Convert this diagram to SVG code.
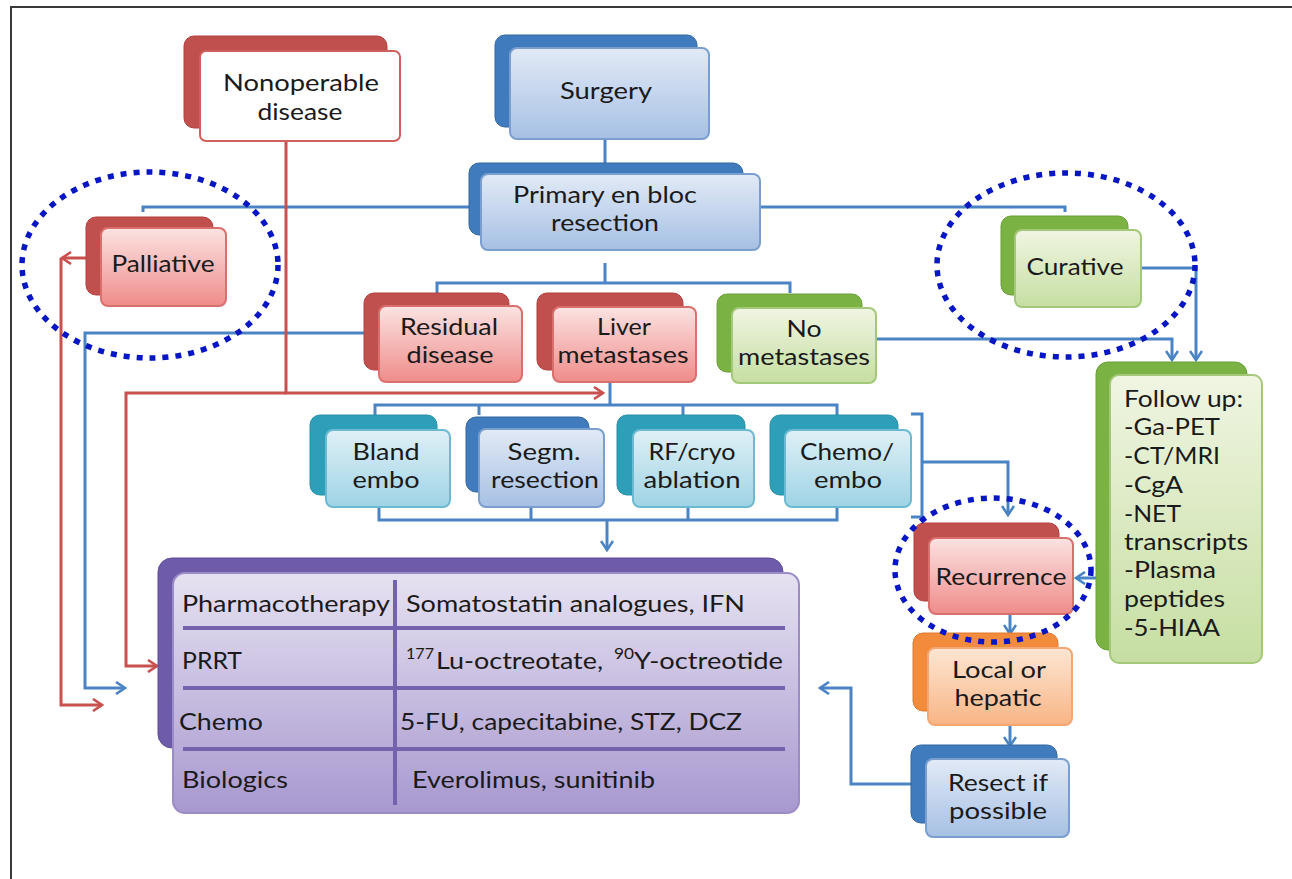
<svg xmlns="http://www.w3.org/2000/svg" width="1292" height="879" viewBox="0 0 1292 879">
<defs>
<linearGradient id="gRed" x1="0" y1="0" x2="0" y2="1"><stop offset="0" stop-color="#fbe3e2"/><stop offset="1" stop-color="#ef8c8a"/></linearGradient>
<linearGradient id="gBlue" x1="0" y1="0" x2="0" y2="1"><stop offset="0" stop-color="#e2eaf6"/><stop offset="1" stop-color="#a6c0e4"/></linearGradient>
<linearGradient id="gGreen" x1="0" y1="0" x2="0" y2="1"><stop offset="0" stop-color="#f0f5e2"/><stop offset="1" stop-color="#c6dea2"/></linearGradient>
<linearGradient id="gTeal" x1="0" y1="0" x2="0" y2="1"><stop offset="0" stop-color="#dff0f6"/><stop offset="1" stop-color="#9fd3e5"/></linearGradient>
<linearGradient id="gOrange" x1="0" y1="0" x2="0" y2="1"><stop offset="0" stop-color="#fde6d3"/><stop offset="1" stop-color="#f8b585"/></linearGradient>
<linearGradient id="gPurple" x1="0" y1="0" x2="0" y2="1"><stop offset="0" stop-color="#e6e2f1"/><stop offset="1" stop-color="#a898cf"/></linearGradient>
<marker id="aB" viewBox="0 0 12 14" refX="10" refY="7" markerWidth="12" markerHeight="14" markerUnits="userSpaceOnUse" orient="auto"><path d="M1,1 L10,7 L1,13" fill="none" stroke="#4a84c4" stroke-width="2.6"/></marker>
<marker id="aR" viewBox="0 0 12 14" refX="10" refY="7" markerWidth="12" markerHeight="14" markerUnits="userSpaceOnUse" orient="auto"><path d="M1,1 L10,7 L1,13" fill="none" stroke="#c8504e" stroke-width="2.6"/></marker>
</defs>
<style>
text{font-family:Lato,"Open Sans","DejaVu Sans",sans-serif;fill:#1a1a1a}
.t{font-size:23px;text-anchor:middle}
.fl{font-size:23px}
.tb{font-size:23px}
.sup{font-size:15px}
.cb{fill:none;stroke:#4a84c4;stroke-width:3}
.cr{fill:none;stroke:#c8504e;stroke-width:3}
.bkR{fill:#c0504d;stroke:#b5403e;stroke-width:1}
.frR{fill:url(#gRed);stroke:#d9706d;stroke-width:2}
.frW{fill:#ffffff;stroke:#d0605d;stroke-width:2}
.bkB{fill:#3f7bbd;stroke:#35679f;stroke-width:1}
.frB{fill:url(#gBlue);stroke:#7a9fcf;stroke-width:2}
.bkG{fill:#7ab344;stroke:#6a9e38;stroke-width:1}
.frG{fill:url(#gGreen);stroke:#a4c879;stroke-width:2}
.bkT{fill:#2d9fb9;stroke:#2790a8;stroke-width:1}
.frT{fill:url(#gTeal);stroke:#6bbad2;stroke-width:2}
.bkO{fill:#f38b3c;stroke:#e07a30;stroke-width:1}
.frO{fill:url(#gOrange);stroke:#f3a874;stroke-width:2}
.bkP{fill:#6e5ba9;stroke:#5e4c98;stroke-width:1}
.frP{fill:url(#gPurple);stroke:#9c8cc6;stroke-width:2}
.ln{stroke:#7462ae;stroke-width:4}
.dot{fill:none;stroke:#0616c4;stroke-width:5.5;stroke-dasharray:6 7}
</style>
<rect x="0" y="0" width="1292" height="879" fill="#ffffff"/>
<path d="M11,879 V7 H1292" fill="none" stroke="#3a3a3a" stroke-width="2"/>

<g id="connectors">
<path class="cb" d="M605,139 V163"/>
<path class="cb" d="M143,212 V207 H1065 V212"/>
<path class="cb" d="M1142,268 H1196 V360" marker-end="url(#aB)"/>
<path class="cb" d="M876,339 H1172 V360" marker-end="url(#aB)"/>
<path class="cb" d="M605,263 V283"/>
<path class="cb" d="M437,293 V283 H790 V293"/>
<path class="cb" d="M364,333 H85 V688 H125" marker-end="url(#aB)"/>
<path class="cb" d="M610,382 V405"/>
<path class="cb" d="M375,415 V405 H837 V415 M479,405 V415 M683,405 V415"/>
<path class="cb" d="M379,508 V520 H837 V508 M531,520 V508 M688,520 V508"/>
<path class="cb" d="M607,520 V550" marker-end="url(#aB)"/>
<path class="cb" d="M911,414 H922 V517 H911"/>
<path class="cb" d="M922,462 H1008 V515" marker-end="url(#aB)"/>
<path class="cb" d="M1096,578 H1076" marker-end="url(#aB)"/>
<path class="cb" d="M1010,615 V634" marker-end="url(#aB)"/>
<path class="cb" d="M1010,725 V746" marker-end="url(#aB)"/>
<path class="cb" d="M911,784 H851 V688 H820" marker-end="url(#aB)"/>
<path class="cr" d="M286,141 V393 H603" marker-end="url(#aR)"/>
<path class="cr" d="M286,393 H126 V666 H157" marker-end="url(#aR)"/>
<path class="cr" d="M86,258 H62" marker-end="url(#aR)"/>
<path class="cr" d="M61,258 V705 H102" marker-end="url(#aR)"/>
</g>

<g id="nonoperable">
<rect class="bkR" x="184" y="36" width="203" height="92" rx="10"/>
<rect class="frW" x="200" y="51" width="200" height="90" rx="6"/>
<text class="t" x="301" y="91" textLength="156" lengthAdjust="spacingAndGlyphs">Nonoperable</text>
<text class="t" x="300" y="120" textLength="85" lengthAdjust="spacingAndGlyphs">disease</text>
</g>

<g id="surgery">
<rect class="bkB" x="495" y="35" width="202" height="92" rx="10"/>
<rect class="frB" x="510" y="48" width="199" height="91" rx="7"/>
<text class="t" x="606" y="99" textLength="92" lengthAdjust="spacingAndGlyphs">Surgery</text>
</g>

<g id="primary">
<rect class="bkB" x="469" y="163" width="274" height="72" rx="10"/>
<rect class="frB" x="481" y="174" width="279" height="76" rx="7"/>
<text class="t" x="605" y="203" textLength="184" lengthAdjust="spacingAndGlyphs">Primary en bloc</text>
<text class="t" x="605" y="231" textLength="108" lengthAdjust="spacingAndGlyphs">resection</text>
</g>

<g id="palliative">
<rect class="bkR" x="86" y="217" width="127" height="78" rx="10"/>
<rect class="frR" x="101" y="228" width="125" height="78" rx="7"/>
<text class="t" x="163" y="272" textLength="103" lengthAdjust="spacingAndGlyphs">Palliative</text>
</g>

<g id="curative">
<rect class="bkG" x="1001" y="216" width="127" height="79" rx="10"/>
<rect class="frG" x="1015" y="230" width="126" height="77" rx="7"/>
<text class="t" x="1075" y="275" textLength="97" lengthAdjust="spacingAndGlyphs">Curative</text>
</g>

<g id="residual">
<rect class="bkR" x="364" y="293" width="145" height="77" rx="10"/>
<rect class="frR" x="379" y="306" width="143" height="76" rx="7"/>
<text class="t" x="449" y="335" textLength="98" lengthAdjust="spacingAndGlyphs">Residual</text>
<text class="t" x="450" y="363" textLength="87" lengthAdjust="spacingAndGlyphs">disease</text>
</g>

<g id="liver">
<rect class="bkR" x="537" y="293" width="146" height="77" rx="10"/>
<rect class="frR" x="553" y="307" width="143" height="75" rx="7"/>
<text class="t" x="624" y="335" textLength="54" lengthAdjust="spacingAndGlyphs">Liver</text>
<text class="t" x="623" y="363" textLength="131" lengthAdjust="spacingAndGlyphs">metastases</text>
</g>

<g id="nometastases">
<rect class="bkG" x="717" y="294" width="145" height="78" rx="10"/>
<rect class="frG" x="732" y="308" width="144" height="75" rx="7"/>
<text class="t" x="804" y="337" textLength="35" lengthAdjust="spacingAndGlyphs">No</text>
<text class="t" x="804" y="365" textLength="132" lengthAdjust="spacingAndGlyphs">metastases</text>
</g>

<g id="followup">
<rect class="bkG" x="1096" y="362" width="151" height="288" rx="12"/>
<rect class="frG" x="1110" y="375" width="152" height="288" rx="9"/>
<text class="fl" x="1124" y="407" textLength="119" lengthAdjust="spacingAndGlyphs">Follow up:</text>
<text class="fl" x="1124" y="435" textLength="96" lengthAdjust="spacingAndGlyphs">-Ga-PET</text>
<text class="fl" x="1124" y="464" textLength="96" lengthAdjust="spacingAndGlyphs">-CT/MRI</text>
<text class="fl" x="1124" y="493" textLength="59" lengthAdjust="spacingAndGlyphs">-CgA</text>
<text class="fl" x="1124" y="522" textLength="57" lengthAdjust="spacingAndGlyphs">-NET</text>
<text class="fl" x="1124" y="550" textLength="124" lengthAdjust="spacingAndGlyphs">transcripts</text>
<text class="fl" x="1124" y="578" textLength="92" lengthAdjust="spacingAndGlyphs">-Plasma</text>
<text class="fl" x="1124" y="607" textLength="101" lengthAdjust="spacingAndGlyphs">peptides</text>
<text class="fl" x="1124" y="636" textLength="96" lengthAdjust="spacingAndGlyphs">-5-HIAA</text>
</g>

<g id="bland">
<rect class="bkT" x="310" y="415" width="127" height="80" rx="10"/>
<rect class="frT" x="326" y="430" width="124" height="77" rx="7"/>
<text class="t" x="386" y="460" textLength="67" lengthAdjust="spacingAndGlyphs">Bland</text>
<text class="t" x="386" y="488" textLength="67" lengthAdjust="spacingAndGlyphs">embo</text>
</g>

<g id="segm">
<rect class="bkB" x="466" y="417" width="123" height="75" rx="10"/>
<rect class="frB" x="479" y="429" width="125" height="78" rx="7"/>
<text class="t" x="544" y="460" textLength="73" lengthAdjust="spacingAndGlyphs">Segm.</text>
<text class="t" x="545" y="488" textLength="108" lengthAdjust="spacingAndGlyphs">resection</text>
</g>

<g id="rfcryo">
<rect class="bkT" x="617" y="415" width="128" height="80" rx="10"/>
<rect class="frT" x="633" y="430" width="121" height="77" rx="7"/>
<text class="t" x="692" y="460" textLength="87" lengthAdjust="spacingAndGlyphs">RF/cryo</text>
<text class="t" x="692" y="488" textLength="97" lengthAdjust="spacingAndGlyphs">ablation</text>
</g>

<g id="chemoembo">
<rect class="bkT" x="770" y="415" width="128" height="80" rx="10"/>
<rect class="frT" x="785" y="430" width="126" height="77" rx="7"/>
<text class="t" x="847" y="460" textLength="94" lengthAdjust="spacingAndGlyphs">Chemo/</text>
<text class="t" x="848" y="488" textLength="68" lengthAdjust="spacingAndGlyphs">embo</text>
</g>

<g id="recurrence">
<rect class="bkR" x="914" y="523" width="145" height="78" rx="10"/>
<rect class="frR" x="929" y="538" width="144" height="76" rx="7"/>
<text class="t" x="1001" y="585" textLength="131" lengthAdjust="spacingAndGlyphs">Recurrence</text>
</g>

<g id="localhepatic">
<rect class="bkO" x="913" y="633" width="145" height="78" rx="10"/>
<rect class="frO" x="928" y="648" width="144" height="77" rx="7"/>
<text class="t" x="999" y="678" textLength="94" lengthAdjust="spacingAndGlyphs">Local or</text>
<text class="t" x="998" y="706" textLength="87" lengthAdjust="spacingAndGlyphs">hepatic</text>
</g>

<g id="resect">
<rect class="bkB" x="911" y="745" width="146" height="78" rx="10"/>
<rect class="frB" x="926" y="759" width="143" height="78" rx="7"/>
<text class="t" x="998" y="791" textLength="100" lengthAdjust="spacingAndGlyphs">Resect if</text>
<text class="t" x="998" y="819" textLength="98" lengthAdjust="spacingAndGlyphs">possible</text>
</g>

<g id="therapytable">
<rect class="bkP" x="158" y="558" width="625" height="190" rx="14"/>
<rect class="frP" x="173" y="573" width="626" height="240" rx="12"/>
<line class="ln" x1="395" y1="580" x2="395" y2="805"/>
<line class="ln" x1="183" y1="628" x2="785" y2="628"/>
<line class="ln" x1="183" y1="688" x2="785" y2="688"/>
<line class="ln" x1="183" y1="749" x2="785" y2="749"/>
<text class="tb" x="182" y="612" textLength="208" lengthAdjust="spacingAndGlyphs">Pharmacotherapy</text>
<text class="tb" x="406" y="612" textLength="339" lengthAdjust="spacingAndGlyphs">Somatostatin analogues, IFN</text>
<text class="tb" x="182" y="669" textLength="60" lengthAdjust="spacingAndGlyphs">PRRT</text>
<text class="sup" x="406" y="659" textLength="28" lengthAdjust="spacingAndGlyphs">177</text>
<text class="tb" x="436" y="669" textLength="167" lengthAdjust="spacingAndGlyphs">Lu-octreotate,</text>
<text class="sup" x="614" y="659" textLength="20" lengthAdjust="spacingAndGlyphs">90</text>
<text class="tb" x="634" y="669" textLength="149" lengthAdjust="spacingAndGlyphs">Y-octreotide</text>
<text class="tb" x="179" y="730" textLength="84" lengthAdjust="spacingAndGlyphs">Chemo</text>
<text class="tb" x="400" y="730" textLength="342" lengthAdjust="spacingAndGlyphs">5-FU, capecitabine, STZ, DCZ</text>
<text class="tb" x="182" y="788" textLength="106" lengthAdjust="spacingAndGlyphs">Biologics</text>
<text class="tb" x="412" y="788" textLength="243" lengthAdjust="spacingAndGlyphs">Everolimus, sunitinib</text>
</g>

<g id="highlights">
<ellipse class="dot" cx="150" cy="265" rx="128" ry="93"/>
<ellipse class="dot" cx="1066" cy="265" rx="129" ry="92"/>
<ellipse class="dot" cx="993" cy="570" rx="98" ry="72"/>
</g>
</svg>
